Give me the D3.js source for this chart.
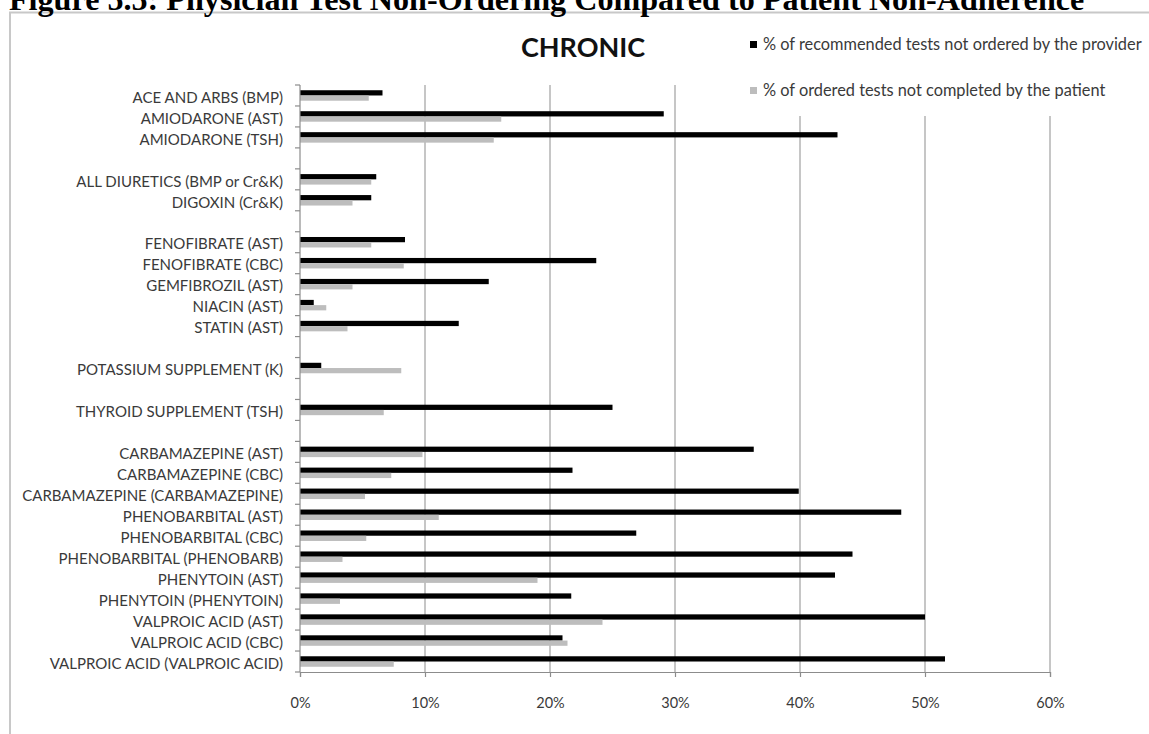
<!DOCTYPE html>
<html>
<head>
<meta charset="utf-8">
<script src="https://cdn.jsdelivr.net/npm/d3@7"></script>
<style>
  html, body { margin: 0; padding: 0; background: #fff; }
  svg { display: block; }
</style>
</head>
<body>
<svg id="chart" width="1149" height="734"></svg>
<script>
// ---- Data ----
const figureTitle = "Figure 5.5: Physician Test Non-Ordering Compared to Patient Non-Adherence";
const chartTitle = "CHRONIC";
const seriesNames = [
  "% of recommended tests not ordered by the provider",
  "% of ordered tests not completed by the patient"
];
const categories = [
  "ACE AND ARBS (BMP)",
  "AMIODARONE (AST)",
  "AMIODARONE (TSH)",
  "",
  "ALL DIURETICS (BMP or Cr&K)",
  "DIGOXIN (Cr&K)",
  "",
  "FENOFIBRATE (AST)",
  "FENOFIBRATE (CBC)",
  "GEMFIBROZIL (AST)",
  "NIACIN (AST)",
  "STATIN (AST)",
  "",
  "POTASSIUM SUPPLEMENT (K)",
  "",
  "THYROID SUPPLEMENT (TSH)",
  "",
  "CARBAMAZEPINE (AST)",
  "CARBAMAZEPINE (CBC)",
  "CARBAMAZEPINE (CARBAMAZEPINE)",
  "PHENOBARBITAL (AST)",
  "PHENOBARBITAL (CBC)",
  "PHENOBARBITAL (PHENOBARB)",
  "PHENYTOIN (AST)",
  "PHENYTOIN (PHENYTOIN)",
  "VALPROIC ACID (AST)",
  "VALPROIC ACID (CBC)",
  "VALPROIC ACID (VALPROIC ACID)"
];
// provider non-ordering (%)
const notOrdered = [6.6, 29.1, 43.0, null, 6.1, 5.7, null, 8.4, 23.7, 15.1, 1.1, 12.7, null,
  1.7, null, 25.0, null, 36.3, 21.8, 39.9, 48.1, 26.9, 44.2, 42.8, 21.7, 50.0, 21.0, 51.6];
// patient non-completion (%)
const notCompleted = [5.5, 16.1, 15.5, null, 5.7, 4.2, null, 5.7, 8.3, 4.2, 2.1, 3.8, null,
  8.1, null, 6.7, null, 9.8, 7.3, 5.2, 11.1, 5.3, 3.4, 19.0, 3.2, 24.2, 21.4, 7.5];
const xTicks = [0, 10, 20, 30, 40, 50, 60];

// ---- Drawing ----
(function () {
const svg = d3.select("#chart");
const FONT = "Lato, 'Open Sans', sans-serif";
const colors = ["#000000", "#bdbdbd"];

const pLeft = 300, pRight = 1050, pTop = 85, pBottom = 672;
const x = d3.scaleLinear().domain([0, 60]).range([pLeft, pRight]);
const y = d3.scaleBand().domain(d3.range(categories.length)).range([pTop, pBottom]).padding(0);
const bw = y.bandwidth();
const ySub = d3.scaleBand().domain([0, 1]).range([bw * 0.25, bw * 0.75]);

// outer frame
svg.append("path")
  .attr("d", `M10,734 L10,12.5 L1149,12.5`)
  .attr("fill", "none").attr("stroke", "#c8c8c8").attr("stroke-width", 2);

// figure title (partially cut at top, as in the reference)
const ft = svg.append("text")
  .attr("x", 9).attr("y", 9.5)
  .attr("font-family", "'Liberation Serif', 'Times New Roman', serif")
  .attr("font-weight", "bold")
  .attr("font-size", 30)
  .attr("fill", "#000")
  .text(figureTitle);
const ftw = ft.node().getComputedTextLength();
ft.attr("font-size", 30 * 1076 / ftw);

// gridlines
svg.append("g").selectAll("line").data(xTicks.filter(d => d > 0)).join("line")
  .attr("x1", d => x(d)).attr("x2", d => x(d))
  .attr("y1", pTop).attr("y2", pBottom)
  .attr("stroke", "#a0a0a0").attr("stroke-width", 1.2);

// legend background (covers gridlines)
svg.append("rect").attr("x", 742).attr("y", 22).attr("width", 406).attr("height", 94).attr("fill", "#fff");

// bars
const series = [notOrdered, notCompleted];
series.forEach((vals, si) => {
  svg.append("g").selectAll("rect")
    .data(vals.map((v, i) => ({ v, i })).filter(d => d.v != null))
    .join("rect")
    .attr("x", x(0))
    .attr("y", d => y(d.i) + ySub(si))
    .attr("width", d => x(d.v) - x(0))
    .attr("height", ySub.bandwidth())
    .attr("fill", colors[si]);
});

// y axis
const yAxisG = svg.append("g");
yAxisG.append("line").attr("x1", pLeft).attr("x2", pLeft).attr("y1", pTop).attr("y2", pBottom)
  .attr("stroke", "#8c8c8c").attr("stroke-width", 1.2);
const bounds = d3.range(categories.length + 1).map(i => pTop + i * bw);
yAxisG.selectAll("line.tk").data(bounds).join("line").attr("class", "tk")
  .attr("x1", pLeft - 5).attr("x2", pLeft).attr("y1", d => d).attr("y2", d => d)
  .attr("stroke", "#8c8c8c").attr("stroke-width", 1.2);
const yLabels = yAxisG.selectAll("text").data(categories.map((c, i) => ({ c, i })).filter(d => d.c)).join("text")
  .attr("x", 283)
  .attr("y", d => y(d.i) + bw / 2 + 2)
  .attr("dy", "0.35em")
  .attr("text-anchor", "end")
  .attr("font-family", FONT)
  .attr("font-size", 14)
  .attr("fill", "#3a3a3a")
  .text(d => d.c);
// size labels so the longest one spans like the reference
const maxW = d3.max(yLabels.nodes(), n => n.getComputedTextLength());
yLabels.attr("font-size", 14 * 261 / maxW);

// x axis
const xAxis = d3.axisBottom(x).tickValues(xTicks).tickFormat(d => d + "%").tickSize(5).tickPadding(21);
const xg = svg.append("g").attr("transform", `translate(0,${pBottom})`).call(xAxis);
xg.select(".domain").attr("stroke", "#8c8c8c").attr("stroke-width", 1.2);
xg.selectAll(".tick line").attr("stroke", "#8c8c8c").attr("stroke-width", 1.2);
xg.selectAll(".tick text").attr("font-family", FONT).attr("font-size", 14.5).attr("fill", "#3a3a3a");

// chart title
svg.append("text")
  .attr("x", 583).attr("y", 57)
  .attr("text-anchor", "middle")
  .attr("font-family", FONT)
  .attr("font-weight", "bold")
  .attr("font-size", 27)
  .attr("fill", "#111")
  .text(chartTitle);

// legend
const legendY = [44.5, 90.5];
const lg = svg.append("g");
const legTexts = [];
seriesNames.forEach((name, i) => {
  lg.append("rect").attr("x", 750).attr("y", legendY[i] - 3.5).attr("width", 7).attr("height", 7).attr("fill", colors[i]);
  legTexts.push(lg.append("text").attr("x", 763).attr("y", legendY[i]).attr("dy", "0.35em")
    .attr("font-family", FONT).attr("font-size", 15).attr("fill", "#3a3a3a").text(name));
});
const lw = legTexts[0].node().getComputedTextLength();
legTexts.forEach(t => t.attr("font-size", 15 * 379 / lw));
})();
</script>
</body>
</html>
